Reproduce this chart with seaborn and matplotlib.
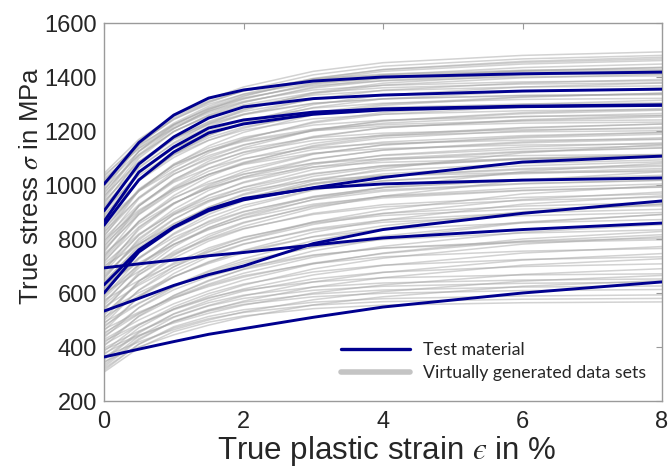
import matplotlib
matplotlib.use("Agg")
import matplotlib.pyplot as plt
from matplotlib.lines import Line2D
import seaborn as sns
import pandas as pd

# ---------------- data ----------------
strain = [0, 0.5, 1, 1.5, 2, 3, 4, 6, 8]  # true plastic strain in %

# test material (blue) curves, stress in MPa at each strain point
test_curves = [
    [1003, 1157, 1259, 1322, 1352, 1385, 1400, 1412, 1418],
    [904, 1078, 1178, 1248, 1289, 1320, 1333, 1348, 1355],
    [865, 1048, 1141, 1211, 1241, 1270, 1282, 1292, 1297],
    [851, 1019, 1122, 1193, 1226, 1262, 1278, 1290, 1295],
    [630, 760, 845, 910, 950, 988, 1004, 1018, 1026],
    [600, 752, 842, 905, 945, 990, 1028, 1085, 1107],
    [693, 708, 722, 738, 750, 778, 804, 835, 859],
    [533, 580, 628, 668, 700, 783, 835, 895, 941],
    [363, 392, 420, 447, 468, 510, 548, 600, 641],
]

# virtually generated data sets (gray), stress in MPa at each strain point
gray_curves = [
    [307, 397, 457, 492, 515, 542, 555, 564, 567],
    [313, 411, 475, 513, 538, 566, 579, 589, 593],
    [320, 410, 470, 505, 528, 555, 568, 577, 580],
    [326, 426, 496, 538, 566, 596, 611, 622, 626],
    [333, 431, 495, 533, 558, 586, 599, 609, 613],
    [340, 440, 510, 552, 580, 610, 625, 636, 640],
    [346, 400, 445, 481, 511, 556, 586, 625, 646],
    [352, 452, 522, 564, 592, 622, 637, 648, 652],
    [358, 456, 523, 572, 607, 652, 677, 698, 708],
    [365, 419, 464, 500, 530, 575, 605, 644, 665],
    [371, 471, 541, 583, 611, 641, 656, 667, 671],
    [377, 440, 493, 535, 570, 622, 657, 703, 727],
    [384, 482, 549, 598, 633, 678, 703, 724, 734],
    [390, 444, 489, 525, 555, 600, 630, 669, 690],
    [396, 459, 512, 554, 589, 641, 676, 722, 746],
    [403, 515, 591, 647, 687, 739, 767, 791, 803],
    [409, 481, 541, 589, 629, 689, 729, 781, 809],
    [415, 513, 580, 629, 664, 709, 734, 755, 765],
    [422, 485, 538, 580, 615, 667, 702, 748, 772],
    [428, 500, 560, 608, 648, 708, 748, 800, 828],
    [434, 546, 622, 678, 718, 770, 798, 822, 834],
    [441, 522, 590, 644, 689, 756, 801, 860, 891],
    [447, 545, 612, 661, 696, 741, 766, 787, 797],
    [453, 525, 585, 633, 673, 733, 773, 825, 853],
    [460, 586, 672, 735, 780, 838, 870, 897, 910],
    [466, 529, 582, 624, 659, 711, 746, 792, 816],
    [472, 584, 660, 716, 756, 808, 836, 860, 872],
    [479, 560, 628, 682, 727, 794, 839, 898, 929],
    [485, 611, 697, 760, 805, 863, 895, 922, 935],
    [491, 563, 623, 671, 711, 771, 811, 863, 891],
    [498, 610, 686, 742, 782, 834, 862, 886, 898],
    [504, 644, 739, 809, 859, 924, 959, 989, 1004],
    [510, 591, 659, 713, 758, 825, 870, 929, 960],
    [517, 643, 729, 792, 837, 895, 927, 954, 967],
    [523, 635, 711, 767, 807, 859, 887, 911, 923],
    [529, 601, 661, 709, 749, 809, 849, 901, 929],
    [536, 676, 771, 841, 891, 956, 991, 1021, 1036],
    [542, 668, 754, 817, 862, 920, 952, 979, 992],
    [548, 629, 697, 751, 796, 863, 908, 967, 998],
    [555, 667, 743, 799, 839, 891, 919, 943, 955],
    [561, 701, 796, 866, 916, 981, 1016, 1046, 1061],
    [567, 693, 779, 842, 887, 945, 977, 1004, 1017],
    [574, 646, 706, 754, 794, 854, 894, 946, 974],
    [580, 706, 792, 855, 900, 958, 990, 1017, 1030],
    [586, 726, 821, 891, 941, 1006, 1041, 1071, 1086],
    [593, 705, 781, 837, 877, 929, 957, 981, 993],
    [599, 680, 748, 802, 847, 914, 959, 1018, 1049],
    [605, 731, 817, 880, 925, 983, 1015, 1042, 1055],
    [612, 752, 847, 917, 967, 1032, 1067, 1097, 1112],
    [618, 730, 806, 862, 902, 954, 982, 1006, 1018],
    [624, 750, 836, 899, 944, 1002, 1034, 1061, 1074],
    [631, 712, 780, 834, 879, 946, 991, 1050, 1081],
    [637, 777, 872, 942, 992, 1057, 1092, 1122, 1137],
    [643, 769, 855, 918, 963, 1021, 1053, 1080, 1093],
    [650, 802, 890, 942, 978, 1018, 1034, 1046, 1050],
    [656, 796, 891, 961, 1011, 1076, 1111, 1141, 1156],
    [662, 788, 874, 937, 982, 1040, 1072, 1099, 1112],
    [669, 781, 857, 913, 953, 1005, 1033, 1057, 1069],
    [675, 815, 910, 980, 1030, 1095, 1130, 1160, 1175],
    [681, 841, 933, 988, 1025, 1067, 1084, 1097, 1101],
    [688, 814, 900, 963, 1008, 1066, 1098, 1125, 1138],
    [694, 834, 929, 999, 1049, 1114, 1149, 1179, 1194],
    [700, 781, 849, 903, 948, 1015, 1060, 1119, 1150],
    [707, 819, 895, 951, 991, 1043, 1071, 1095, 1107],
    [713, 865, 953, 1005, 1041, 1081, 1097, 1109, 1113],
    [719, 845, 931, 994, 1039, 1097, 1129, 1156, 1169],
    [726, 866, 961, 1031, 1081, 1146, 1181, 1211, 1226],
    [732, 892, 984, 1039, 1076, 1118, 1135, 1148, 1152],
    [738, 864, 950, 1013, 1058, 1116, 1148, 1175, 1188],
    [745, 857, 933, 989, 1029, 1081, 1109, 1133, 1145],
    [751, 922, 1021, 1080, 1120, 1165, 1183, 1197, 1201],
    [757, 897, 992, 1062, 1112, 1177, 1212, 1242, 1257],
    [764, 890, 976, 1039, 1084, 1142, 1174, 1201, 1214],
    [770, 922, 1010, 1062, 1098, 1138, 1154, 1166, 1170],
    [776, 902, 988, 1051, 1096, 1154, 1186, 1213, 1226],
    [783, 923, 1018, 1088, 1138, 1203, 1238, 1268, 1283],
    [789, 949, 1041, 1096, 1133, 1175, 1192, 1205, 1209],
    [795, 907, 983, 1039, 1079, 1131, 1159, 1183, 1195],
    [802, 928, 1014, 1077, 1122, 1180, 1212, 1239, 1252],
    [808, 979, 1078, 1137, 1177, 1222, 1240, 1254, 1258],
    [814, 954, 1049, 1119, 1169, 1234, 1269, 1299, 1314],
    [821, 981, 1073, 1128, 1165, 1207, 1224, 1237, 1241],
    [827, 953, 1039, 1102, 1147, 1205, 1237, 1264, 1277],
    [833, 985, 1073, 1125, 1161, 1201, 1217, 1229, 1233],
    [840, 980, 1075, 1145, 1195, 1260, 1295, 1325, 1340],
    [846, 1017, 1116, 1175, 1215, 1260, 1278, 1292, 1296],
    [852, 978, 1064, 1127, 1172, 1230, 1262, 1289, 1302],
    [859, 1019, 1111, 1166, 1203, 1245, 1262, 1275, 1279],
    [865, 977, 1053, 1109, 1149, 1201, 1229, 1253, 1265],
    [871, 1042, 1141, 1200, 1240, 1285, 1303, 1317, 1321],
    [878, 1018, 1113, 1183, 1233, 1298, 1333, 1363, 1378],
    [884, 1044, 1136, 1191, 1228, 1270, 1287, 1300, 1304],
    [890, 1016, 1102, 1165, 1210, 1268, 1300, 1327, 1340],
    [897, 1049, 1137, 1189, 1225, 1265, 1281, 1293, 1297],
    [903, 1074, 1173, 1232, 1272, 1317, 1335, 1349, 1353],
    [909, 1035, 1121, 1184, 1229, 1287, 1319, 1346, 1359],
    [916, 1076, 1168, 1223, 1260, 1302, 1319, 1332, 1336],
    [922, 1062, 1157, 1227, 1277, 1342, 1377, 1407, 1422],
    [928, 1099, 1198, 1257, 1297, 1342, 1360, 1374, 1378],
    [935, 1087, 1175, 1227, 1263, 1303, 1319, 1331, 1335],
    [941, 1067, 1153, 1216, 1261, 1319, 1351, 1378, 1391],
    [947, 1107, 1199, 1254, 1291, 1333, 1350, 1363, 1367],
    [954, 1125, 1224, 1283, 1323, 1368, 1386, 1400, 1404],
    [960, 1086, 1172, 1235, 1280, 1338, 1370, 1397, 1410],
    [966, 1126, 1218, 1273, 1310, 1352, 1369, 1382, 1386],
    [973, 1113, 1208, 1278, 1328, 1393, 1428, 1458, 1473],
    [979, 1150, 1249, 1308, 1348, 1393, 1411, 1425, 1429],
    [985, 1111, 1197, 1260, 1305, 1363, 1395, 1422, 1435],
    [992, 1152, 1244, 1299, 1336, 1378, 1395, 1408, 1412],
    [998, 1124, 1210, 1273, 1318, 1376, 1408, 1435, 1448],
    [1004, 1164, 1256, 1311, 1348, 1390, 1407, 1420, 1424],
    [1011, 1137, 1223, 1286, 1331, 1389, 1421, 1448, 1461],
    [1017, 1143, 1229, 1292, 1337, 1395, 1427, 1454, 1467],
    [1023, 1135, 1211, 1267, 1307, 1359, 1387, 1411, 1423],
    [1030, 1156, 1242, 1305, 1350, 1408, 1440, 1467, 1480],
    [1036, 1148, 1224, 1280, 1320, 1372, 1400, 1424, 1436],
    [1043, 1169, 1255, 1318, 1363, 1421, 1453, 1480, 1493],
]

x_ticks = [0, 2, 4, 6, 8]
y_ticks = [200, 400, 600, 800, 1000, 1200, 1400, 1600]
legend_labels = ["Test material", "Virtually generated data sets"]
x_label = "True plastic strain $\u03f5$ in %"
y_label = r"True stress $\sigma$ in MPa"


def to_long(curves):
    rows = []
    for i, c in enumerate(curves):
        for s, v in zip(strain, c):
            rows.append({"curve": i, "strain": s, "stress": v})
    return pd.DataFrame(rows)


gray_df = to_long(gray_curves)
test_df = to_long(test_curves)

# ---------------- style ----------------
sns.set_theme(style="white")
plt.rcParams["font.family"] = ["Liberation Sans", "DejaVu Sans"]
plt.rcParams["mathtext.fontset"] = "stix"

GRAY = "#a6a6a6"
GRAY_LEG = "#c4c4c4"
BLUE = "#00008f"
FRAME = "#9a9a9a"
TEXT = "#262626"

fig = plt.figure(figsize=(6.68, 4.66), dpi=100)
ax = fig.add_axes([104 / 668, 1 - 401 / 466, 558 / 668, 378 / 466])

sns.lineplot(data=gray_df, x="strain", y="stress", units="curve",
             estimator=None, color=GRAY, alpha=0.5, linewidth=1.1, ax=ax,
             legend=False, zorder=1)
sns.lineplot(data=test_df, x="strain", y="stress", units="curve",
             estimator=None, color=BLUE, linewidth=2.1, ax=ax,
             legend=False, zorder=3)

ax.set_xlim(0, 8)
ax.set_ylim(200, 1600)
ax.set_xticks(x_ticks)
ax.set_yticks(y_ticks)
ax.tick_params(direction="in", length=4, width=0.8, color=FRAME,
               labelsize=17, labelcolor=TEXT, top=True, right=True)
ax.tick_params(axis="x", pad=7)
ax.tick_params(axis="y", pad=5)
for sp in ax.spines.values():
    sp.set_color(FRAME)
    sp.set_linewidth(1.0)
    sp.set_visible(True)

ax.set_xlabel(x_label, fontsize=22.5, color=TEXT)
ax.set_ylabel(y_label, fontsize=18.5, color=TEXT)
ax.xaxis.set_label_coords(0.507, -0.086)
ax.yaxis.set_label_coords(-0.11, 0.569)

handles = [Line2D([0], [0], color=BLUE, linewidth=2.4),
           Line2D([0], [0], color=GRAY_LEG, linewidth=4.0)]
leg = ax.legend(handles, legend_labels, loc="lower left",
                bbox_to_anchor=(0.425, 0.052), frameon=False,
                borderpad=0, borderaxespad=0, handlelength=3.9,
                handletextpad=0.7, labelspacing=0.4,
                prop={"family": "Lato", "size": 12.8})
for t in leg.get_texts():
    t.set_color(TEXT)

fig.savefig("out.png", dpi=100)
